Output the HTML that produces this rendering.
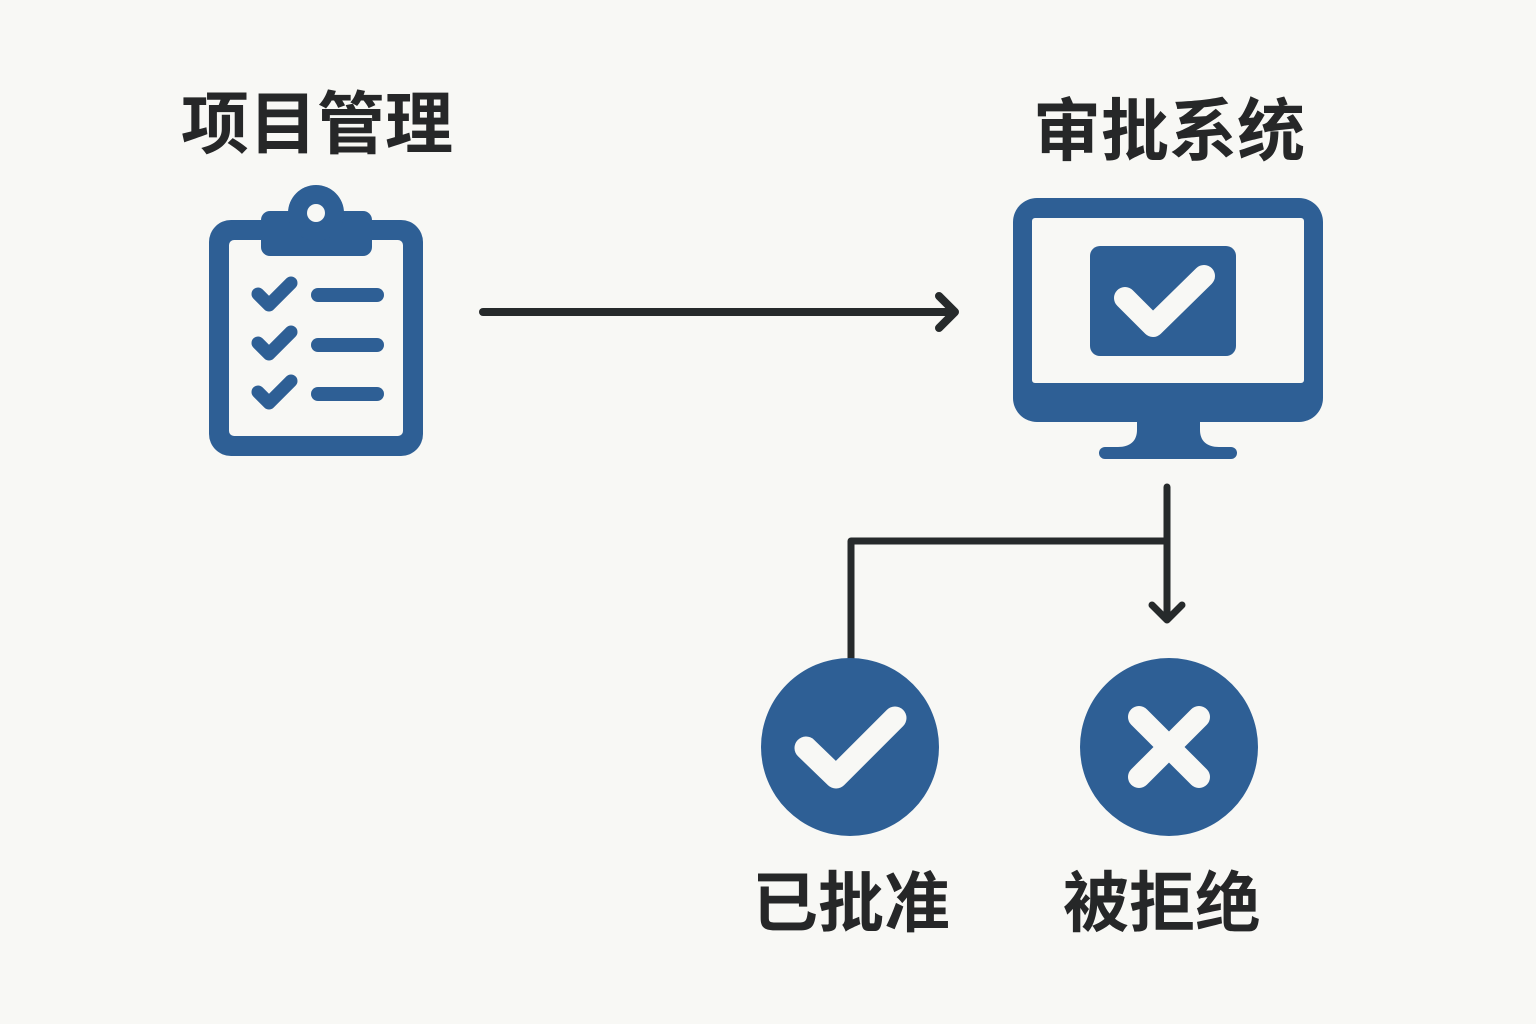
<!DOCTYPE html>
<html>
<head>
<meta charset="utf-8">
<style>
  html, body { margin: 0; padding: 0; background: #f8f8f5; }
  body { width: 1536px; height: 1024px; overflow: hidden; }
  svg { display: block; }
  text { font-family: "Liberation Sans", "Noto Sans CJK SC", "WenQuanYi Zen Hei", sans-serif; font-weight: 700; fill: #262728; }
</style>
</head>
<body>
<svg width="1536" height="1024" viewBox="0 0 1536 1024" xmlns="http://www.w3.org/2000/svg">
  <rect x="0" y="0" width="1536" height="1024" fill="#f8f8f5"/>

  <!-- Titles -->
  <text x="317" y="148" font-size="68" text-anchor="middle">项目管理</text>
  <text x="1169" y="155" font-size="68" text-anchor="middle">审批系统</text>

  <!-- Clipboard -->
  <rect x="209" y="220" width="214" height="236" rx="22" fill="#2e5f95"/>
  <rect x="229" y="240" width="174" height="196" rx="5" fill="#f8f8f5"/>
  <rect x="261" y="211" width="111" height="45" rx="9" fill="#2e5f95"/>
  <circle cx="316" cy="213" r="28" fill="#2e5f95"/>
  <circle cx="316" cy="213" r="9" fill="#f8f8f5"/>
  <g fill="none" stroke="#2e5f95" stroke-width="13" stroke-linecap="round" stroke-linejoin="round">
    <polyline points="258,294 269,305 291,283"/>
    <polyline points="258,343 269,354 291,332"/>
    <polyline points="258,392 269,403 291,381"/>
  </g>
  <g stroke="#2e5f95" stroke-width="14" stroke-linecap="round">
    <line x1="318" y1="295" x2="377" y2="295"/>
    <line x1="318" y1="345" x2="377" y2="345"/>
    <line x1="318" y1="394" x2="377" y2="394"/>
  </g>

  <!-- Arrow 1 -->
  <g fill="none" stroke="#262a2b" stroke-width="8" stroke-linecap="round" stroke-linejoin="round">
    <line x1="483" y1="312" x2="954" y2="312"/>
    <polyline points="939,296 955,312 939,328"/>
  </g>

  <!-- Monitor -->
  <rect x="1013" y="198" width="310" height="224" rx="24" fill="#2e5f95"/>
  <rect x="1032" y="218" width="272" height="165" rx="3" fill="#f8f8f5"/>
  <rect x="1090" y="246" width="146" height="110" rx="10" fill="#2e5f95"/>
  <polyline points="1125,298 1153,326 1204,276" fill="none" stroke="#f8f8f5" stroke-width="22" stroke-linecap="round" stroke-linejoin="round"/>
  <path d="M1137,418 L1137,430 C1137,441 1130,447 1118,447 L1219,447 C1207,447 1200,441 1200,430 L1200,418 Z" fill="#2e5f95"/>
  <rect x="1099" y="447" width="138" height="12" rx="6" fill="#2e5f95"/>

  <!-- Connector -->
  <g fill="none" stroke="#262a2b" stroke-width="7" stroke-linecap="round" stroke-linejoin="round">
    <line x1="1167" y1="487" x2="1167" y2="619"/>
    <polyline points="1152,605 1167,620 1182,605"/>
    <polyline points="851,660 851,541 1167,541" stroke-linecap="butt"/>
  </g>

  <!-- Approved circle -->
  <circle cx="850" cy="747" r="89" fill="#2e5f95"/>
  <polyline points="806,748 836,777 895,718" fill="none" stroke="#f8f8f5" stroke-width="23" stroke-linecap="round" stroke-linejoin="round"/>

  <!-- Rejected circle -->
  <circle cx="1169" cy="747" r="89" fill="#2e5f95"/>
  <g stroke="#f8f8f5" stroke-width="22" stroke-linecap="round">
    <line x1="1139" y1="717" x2="1199" y2="777"/>
    <line x1="1199" y1="717" x2="1139" y2="777"/>
  </g>

  <!-- Bottom labels -->
  <text x="851" y="926" font-size="66" text-anchor="middle">已批准</text>
  <text x="1162" y="926" font-size="66" text-anchor="middle">被拒绝</text>
</svg>
</body>
</html>
